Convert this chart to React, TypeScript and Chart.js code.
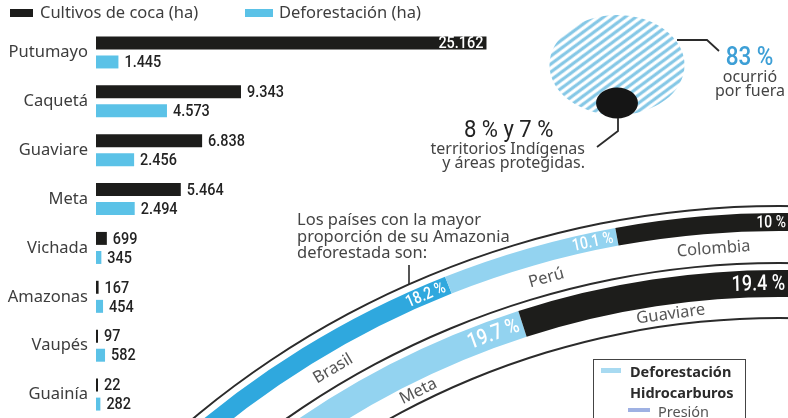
import React, { useEffect, useRef } from "react";
import { Chart, registerables } from "chart.js";

Chart.register(...registerables);

// ---------------- data ----------------
const departments = ["Putumayo", "Caquetá", "Guaviare", "Meta", "Vichada", "Amazonas", "Vaupés", "Guainía"];
const cocaHa = [25162, 9343, 6838, 5464, 699, 167, 97, 22];
const deforestationHa = [1445, 4573, 2456, 2494, 345, 454, 582, 282];
const barSeries = ["Cultivos de coca (ha)", "Deforestación (ha)"];

const countries = ["Brasil", "Perú", "Colombia"];
const countryDeforestedPct = [18.2, 10.1, 10];
const pressureDepartments = ["Meta", "Guaviare"];
const pressurePct = [19.7, 19.4];

const locationGroups = ["ocurrió por fuera", "territorios Indígenas y áreas protegidas"];
const locationPct = [83, 8];

// ---------------- styles / layout ----------------
const BLACK = "#1d1d1b";
const BAR_BLUE = "#5bc2e7";
const BRASIL_BLUE = "#2fa8de";
const LIGHT_BLUE = "#93d3f0";
const HATCH_BLUE = "#86c8e6";
const LINE = "#2b2b2b";
const TEXT = "#3d3d3d";
const CLEAR = "rgba(0,0,0,0)";
const BODY_FONT = '"Noto Sans", sans-serif';
const NUM_FONT = 'Roboto, "Noto Sans", sans-serif';

const ARC_CX = 779;
const ARC_CY = 1120;
const ARC_HALF = 930;
const ARC_OUTER = 915;
const ARC_INNER = 801;

const CIRCLE_CX = 617;
const CIRCLE_CY = 65;
const CIRCLE_SX = 1.35;
const circleRadius = (pct: number) => 5.49 * Math.sqrt(pct);
const R_BIG = circleRadius(locationPct[0]);
const R_SMALL = circleRadius(locationPct[1]);
const SMALL_CY = CIRCLE_CY + (R_BIG - R_SMALL + 3.5);

const fmt = (v: number) => String(v).replace(/\B(?=(\d{3})+(?!\d))/g, ".");

function Cond(props: { children: any; size: number; color: string; sx?: number; weight?: number }) {
  return (
    <span
      style={{
        display: "inline-block",
        fontFamily: NUM_FONT,
        fontSize: props.size,
        lineHeight: `${props.size}px`,
        fontWeight: props.weight ?? 500,
        color: props.color,
        transform: `scaleX(${props.sx ?? 0.9})`,
        whiteSpace: "nowrap",
      }}
    >
      {props.children}
    </span>
  );
}

const stretchPlugin = (sx: number) => ({
  id: "stretch",
  beforeDatasetsDraw(chart: any) {
    const { ctx, chartArea: a } = chart;
    const cx = (a.left + a.right) / 2;
    ctx.save();
    ctx.translate(cx, 0);
    ctx.scale(sx, 1);
    ctx.translate(-cx, 0);
  },
  afterDatasetsDraw(chart: any) {
    chart.ctx.restore();
  },
});

export default function App() {
  const barRef = useRef<HTMLCanvasElement>(null);
  const arcRef = useRef<HTMLCanvasElement>(null);
  const bigRef = useRef<HTMLCanvasElement>(null);
  const smallRef = useRef<HTMLCanvasElement>(null);

  useEffect(() => {
    const charts: Chart[] = [];

    // ---------- bar chart ----------
    const valueLabels = {
      id: "valueLabels",
      afterDatasetsDraw(chart: any) {
        const { ctx } = chart;
        chart.data.datasets.forEach((ds: any, di: number) => {
          chart.getDatasetMeta(di).data.forEach((bar: any, i: number) => {
            const { x, y, base } = bar.getProps(["x", "y", "base"], true);
            const inside = x - base > 300;
            ctx.save();
            ctx.font = `500 17px ${NUM_FONT}`;
            ctx.textBaseline = "middle";
            ctx.textAlign = inside ? "right" : "left";
            ctx.fillStyle = inside ? "#ffffff" : "#222222";
            ctx.translate(inside ? x - 3 : x + 6, y + 1);
            ctx.scale(0.85, 1);
            ctx.fillText(fmt(ds.data[i]), 0, 0);
            ctx.restore();
          });
        });
      },
    };

    if (barRef.current) {
      charts.push(
        new Chart(barRef.current, {
          type: "bar",
          data: {
            labels: departments,
            datasets: [
              {
                label: barSeries[0],
                data: cocaHa,
                backgroundColor: BLACK,
                categoryPercentage: 0.78,
                barPercentage: 0.68,
                minBarLength: 2,
              },
              {
                label: barSeries[1],
                data: deforestationHa,
                backgroundColor: BAR_BLUE,
                categoryPercentage: 0.78,
                barPercentage: 0.68,
                minBarLength: 2,
              },
            ],
          },
          options: {
            indexAxis: "y",
            responsive: false,
            animation: false,
            devicePixelRatio: 1,
            events: [],
            layout: { padding: 0 },
            plugins: { legend: { display: false }, tooltip: { enabled: false } },
            scales: {
              x: { display: false, min: 0, max: 27000 },
              y: {
                grid: { display: false, drawTicks: false },
                border: { display: false },
                ticks: { padding: 8, color: TEXT, font: { family: "Noto Sans", size: 16.5 } },
                afterFit: (s: any) => {
                  s.width = 96;
                  s.paddingTop = 0;
                  s.paddingBottom = 0;
                },
              },
            },
          } as any,
          plugins: [valueLabels],
        })
      );
    }

    // ---------- arcs (doughnut) ----------
    const ringText = {
      id: "ringText",
      afterDatasetsDraw(chart: any) {
        const { ctx } = chart;
        const bands = [
          { ds: 2, labelDs: 3, names: countries, values: countryDeforestedPct, size: 17 },
          { ds: 6, labelDs: 7, names: pressureDepartments, values: pressurePct, size: 22 },
        ];
        bands.forEach((b) => {
          const la = chart.getDatasetMeta(b.labelDs).data[0].getProps(["innerRadius", "outerRadius"], true);
          const rName = (la.innerRadius + la.outerRadius) / 2;
          chart.getDatasetMeta(b.ds).data.forEach((arc: any, i: number) => {
            const p = arc.getProps(["x", "y", "startAngle", "endAngle", "innerRadius", "outerRadius"], true);
            const rMid = (p.innerRadius + p.outerRadius) / 2;
            const text = `${b.values[i]} %`;
            ctx.save();
            ctx.font = `500 ${b.size}px ${NUM_FONT}`;
            const w = ctx.measureText(text).width * 0.82;
            const a = p.endAngle - (4 + w / 2) / rMid;
            ctx.translate(p.x + rMid * Math.cos(a), p.y + rMid * Math.sin(a));
            ctx.rotate(a + Math.PI / 2);
            ctx.scale(0.82, 1);
            ctx.textAlign = "center";
            ctx.textBaseline = "middle";
            ctx.fillStyle = "#ffffff";
            ctx.fillText(text, 0, 1);
            ctx.restore();

            const am = p.startAngle + 0.55 * (p.endAngle - p.startAngle);
            ctx.save();
            ctx.font = `16.5px ${BODY_FONT}`;
            ctx.translate(p.x + rName * Math.cos(am), p.y + rName * Math.sin(am));
            ctx.rotate(am + Math.PI / 2);
            ctx.textAlign = "center";
            ctx.textBaseline = "middle";
            ctx.fillStyle = "#555555";
            ctx.fillText(b.names[i], 0, 0);
            ctx.restore();
          });
        });
      },
    };

    const full = (weight: number, color: string) => ({
      data: [1],
      backgroundColor: color,
      weight,
      rotation: 0,
      circumference: 360,
      borderWidth: 0,
      hoverOffset: 0,
    });

    if (arcRef.current) {
      charts.push(
        new Chart(arcRef.current, {
          type: "doughnut",
          data: {
            labels: countries,
            datasets: [
              full(2, LINE),
              full(6, CLEAR),
              {
                label: "Amazonia deforestada",
                data: countryDeforestedPct,
                backgroundColor: [BRASIL_BLUE, LIGHT_BLUE, BLACK],
                weight: 18,
                rotation: -41.8,
                circumference: 42.5,
                borderWidth: 0,
                hoverOffset: 0,
              },
              full(31, CLEAR),
              full(2, LINE),
              full(6, CLEAR),
              {
                label: "Presión hidrocarburos",
                data: pressurePct,
                backgroundColor: [LIGHT_BLUE, BLACK],
                weight: 27,
                rotation: -36.7,
                circumference: 37.4,
                borderWidth: 0,
                hoverOffset: 0,
              },
              full(20, CLEAR),
              full(2, LINE),
            ] as any,
          },
          options: {
            responsive: false,
            animation: false,
            devicePixelRatio: 1,
            events: [],
            radius: ARC_OUTER,
            cutout: `${(ARC_INNER / ARC_OUTER) * 100}%`,
            layout: { padding: 0 },
            plugins: { legend: { display: false }, tooltip: { enabled: false } },
          } as any,
          plugins: [ringText],
        })
      );
    }

    // ---------- location circles (pie, stretched into ellipses) ----------
    const pieOptions = (radius: number) =>
      ({
        responsive: false,
        animation: false,
        devicePixelRatio: 1,
        events: [],
        radius,
        layout: { padding: 0 },
        plugins: { legend: { display: false }, tooltip: { enabled: false } },
      } as any);

    if (bigRef.current) {
      const tile = document.createElement("canvas");
      tile.width = 8;
      tile.height = 8;
      const g = tile.getContext("2d")!;
      g.strokeStyle = HATCH_BLUE;
      g.lineWidth = 2.8;
      g.lineCap = "square";
      g.beginPath();
      g.moveTo(0, 8);
      g.lineTo(8, 0);
      g.moveTo(-1, 1);
      g.lineTo(1, -1);
      g.moveTo(7, 9);
      g.lineTo(9, 7);
      g.stroke();
      const pattern = bigRef.current.getContext("2d")!.createPattern(tile, "repeat");
      charts.push(
        new Chart(bigRef.current, {
          type: "pie",
          data: {
            labels: [locationGroups[0]],
            datasets: [{ data: [locationPct[0]], backgroundColor: [pattern as any], borderWidth: 0, hoverOffset: 0 }],
          },
          options: pieOptions(R_BIG),
          plugins: [stretchPlugin(CIRCLE_SX)],
        })
      );
    }
    if (smallRef.current) {
      charts.push(
        new Chart(smallRef.current, {
          type: "pie",
          data: {
            labels: [locationGroups[1]],
            datasets: [{ data: [locationPct[1]], backgroundColor: ["#151515"], borderWidth: 0, hoverOffset: 0 }],
          },
          options: pieOptions(R_SMALL),
          plugins: [stretchPlugin(CIRCLE_SX)],
        })
      );
    }

    return () => charts.forEach((c) => c.destroy());
  }, []);

  const abs = (s: any) => ({ position: "absolute" as const, whiteSpace: "nowrap" as const, ...s });

  return (
    <div
      style={{
        position: "fixed",
        left: 0,
        top: 0,
        width: 788,
        height: 418,
        overflow: "hidden",
        background: "#ffffff",
        fontFamily: BODY_FONT,
        color: TEXT,
      }}
    >
      <canvas
        ref={arcRef}
        width={2 * ARC_HALF}
        height={2 * ARC_HALF}
        style={{ position: "absolute", left: ARC_CX - ARC_HALF, top: ARC_CY - ARC_HALF, width: 2 * ARC_HALF, height: 2 * ARC_HALF }}
      />
      <canvas ref={barRef} width={515} height={391} style={{ position: "absolute", left: 0, top: 28, width: 515, height: 391 }} />
      <canvas
        ref={bigRef}
        width={150}
        height={110}
        style={{ position: "absolute", left: CIRCLE_CX - 75, top: CIRCLE_CY - 55, width: 150, height: 110 }}
      />
      <canvas
        ref={smallRef}
        width={50}
        height={40}
        style={{ position: "absolute", left: CIRCLE_CX - 25, top: SMALL_CY - 20, width: 50, height: 40 }}
      />

      <svg width={788} height={418} style={{ position: "absolute", left: 0, top: 0 }}>
        <polyline points="677,40 707,40 719,51" fill="none" stroke={LINE} strokeWidth={1.8} />
        <polyline points="618,118 618,131 597,147" fill="none" stroke={LINE} strokeWidth={1.8} />
        <line x1={409} y1={265} x2={409} y2={284} stroke={LINE} strokeWidth={1.6} />
      </svg>

      {/* top legend */}
      <div style={abs({ left: 10, top: 9, width: 23, height: 8, background: BLACK })} />
      <div style={abs({ left: 40, top: 3.6, fontSize: 16.5, lineHeight: "16.5px" })}>{barSeries[0]}</div>
      <div style={abs({ left: 245, top: 9, width: 28, height: 8, background: BAR_BLUE })} />
      <div style={abs({ left: 279, top: 3.6, fontSize: 16.5, lineHeight: "16.5px" })}>{barSeries[1]}</div>

      {/* circle annotations */}
      <div style={abs({ left: 700, top: 44, width: 100, textAlign: "center", lineHeight: "25px" })}>
        <Cond size={25} color="#3d9fd6" sx={0.9}>{`${locationPct[0]} %`}</Cond>
      </div>
      <div style={abs({ left: 700, top: 68.5, width: 100, textAlign: "center", fontSize: 16, lineHeight: "14.5px", color: "#444" })}>
        ocurrió
        <br />
        por fuera
      </div>
      <div style={abs({ left: 449, top: 117, width: 120, textAlign: "center", lineHeight: "24px" })}>
        <Cond size={24} color="#222" sx={0.92} weight={400}>8 % y 7 %</Cond>
      </div>
      <div style={abs({ left: 385, top: 140.5, width: 200, textAlign: "right", fontSize: 16, lineHeight: "14.5px", color: "#444" })}>
        territorios Indígenas
        <br />
        y áreas protegidas.
      </div>

      {/* arcs intro */}
      <div style={abs({ left: 297, top: 211.4, fontSize: 16.5, lineHeight: "16.5px", color: "#444" })}>
        Los países con la mayor
        <br />
        proporción de su Amazonia
        <br />
        deforestada son:
      </div>

      {/* bottom-right legend */}
      <div style={abs({ left: 593, top: 359, width: 153, height: 80, border: "1.5px solid #444", background: "#fff", boxSizing: "border-box" })} />
      <div style={abs({ left: 601, top: 368, width: 20, height: 5, background: "#a8daf1" })} />
      <div style={abs({ left: 630, top: 364.1, fontSize: 14.5, lineHeight: "14.5px", fontWeight: 700, color: "#2b2b2b" })}>Deforestación</div>
      <div style={abs({ left: 630, top: 385.1, fontSize: 14.5, lineHeight: "14.5px", fontWeight: 700, color: "#2b2b2b" })}>Hidrocarburos</div>
      <div style={abs({ left: 628, top: 408, width: 22, height: 4, background: "#9fb1e3" })} />
      <div style={abs({ left: 658, top: 404.1, fontSize: 14.5, lineHeight: "14.5px", color: "#555" })}>Presión</div>
    </div>
  );
}
